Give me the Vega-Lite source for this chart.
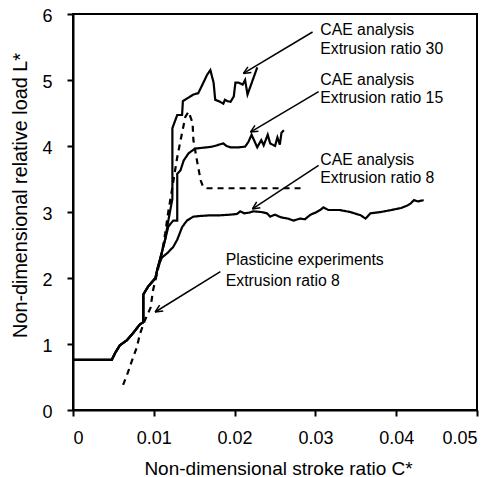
{
  "$schema": "https://vega.github.io/schema/vega-lite/v6.json",
  "width": 404,
  "height": 396,
  "autosize": {"type": "none"},
  "padding": {"left": 73, "top": 14, "right": 8, "bottom": 67},
  "background": "white",
  "config": {
    "font": "Liberation Sans",
    "view": {"stroke": "black", "strokeWidth": 2},
    "axis": {"grid": false, "domainColor": "black", "domainWidth": 2, "tickColor": "black", "tickWidth": 2, "tickSize": 6, "labelColor": "black", "labelFontSize": 18, "titleColor": "black", "titleFontWeight": "normal"}
  },
  "datasets": {
    "curves": [
      {"s": "CAE30", "i": 1, "x": 0, "y": 0.76}, {"s": "CAE30", "i": 2, "x": 0.0048, "y": 0.76}, {"s": "CAE30", "i": 3, "x": 0.0052, "y": 0.86}, {"s": "CAE30", "i": 4, "x": 0.0058, "y": 0.98}, {"s": "CAE30", "i": 5, "x": 0.0067, "y": 1.06}, {"s": "CAE30", "i": 6, "x": 0.0074, "y": 1.16}, {"s": "CAE30", "i": 7, "x": 0.0083, "y": 1.3}, {"s": "CAE30", "i": 8, "x": 0.0087, "y": 1.33}, {"s": "CAE30", "i": 9, "x": 0.0087, "y": 1.75}, {"s": "CAE30", "i": 10, "x": 0.0093, "y": 1.87}, {"s": "CAE30", "i": 11, "x": 0.0102, "y": 2.0}, {"s": "CAE30", "i": 12, "x": 0.0105, "y": 2.16}, {"s": "CAE30", "i": 13, "x": 0.011, "y": 2.39},
      {"s": "CAE30", "i": 14, "x": 0.0114, "y": 2.58}, {"s": "CAE30", "i": 15, "x": 0.0118, "y": 2.87}, {"s": "CAE30", "i": 16, "x": 0.0123, "y": 3.2}, {"s": "CAE30", "i": 17, "x": 0.0123, "y": 4.27}, {"s": "CAE30", "i": 18, "x": 0.0129, "y": 4.47}, {"s": "CAE30", "i": 19, "x": 0.0135, "y": 4.47}, {"s": "CAE30", "i": 20, "x": 0.0136, "y": 4.68}, {"s": "CAE30", "i": 21, "x": 0.0149, "y": 4.78}, {"s": "CAE30", "i": 22, "x": 0.0155, "y": 4.8}, {"s": "CAE30", "i": 23, "x": 0.0161, "y": 4.95}, {"s": "CAE30", "i": 24, "x": 0.0166, "y": 5.08}, {"s": "CAE30", "i": 25, "x": 0.017, "y": 5.15}, {"s": "CAE30", "i": 26, "x": 0.0174, "y": 4.96}, {"s": "CAE30", "i": 27, "x": 0.0176, "y": 4.7}, {"s": "CAE30", "i": 28, "x": 0.0182, "y": 4.67}, {"s": "CAE30", "i": 29, "x": 0.0186, "y": 4.64}, {"s": "CAE30", "i": 30, "x": 0.0188, "y": 4.7}, {"s": "CAE30", "i": 31, "x": 0.0191, "y": 4.68}, {"s": "CAE30", "i": 32, "x": 0.0195, "y": 4.67}, {"s": "CAE30", "i": 33, "x": 0.0199, "y": 4.75}, {"s": "CAE30", "i": 34, "x": 0.0201, "y": 4.96}, {"s": "CAE30", "i": 35, "x": 0.0205, "y": 4.96}, {"s": "CAE30", "i": 36, "x": 0.021, "y": 4.93}, {"s": "CAE30", "i": 37, "x": 0.0213, "y": 5.0}, {"s": "CAE30", "i": 38, "x": 0.0216, "y": 4.78}, {"s": "CAE30", "i": 39, "x": 0.0228, "y": 5.19},
      {"s": "CAE15", "i": 1, "x": 0, "y": 0.76}, {"s": "CAE15", "i": 2, "x": 0.0048, "y": 0.76}, {"s": "CAE15", "i": 3, "x": 0.0052, "y": 0.86}, {"s": "CAE15", "i": 4, "x": 0.0058, "y": 0.98}, {"s": "CAE15", "i": 5, "x": 0.0067, "y": 1.06}, {"s": "CAE15", "i": 6, "x": 0.0074, "y": 1.16}, {"s": "CAE15", "i": 7, "x": 0.0083, "y": 1.3}, {"s": "CAE15", "i": 8, "x": 0.0087, "y": 1.33}, {"s": "CAE15", "i": 9, "x": 0.0087, "y": 1.75}, {"s": "CAE15", "i": 10, "x": 0.0093, "y": 1.87}, {"s": "CAE15", "i": 11, "x": 0.0102, "y": 2.0}, {"s": "CAE15", "i": 12, "x": 0.0105, "y": 2.16}, {"s": "CAE15", "i": 13, "x": 0.011, "y": 2.39},
      {"s": "CAE15", "i": 14, "x": 0.0114, "y": 2.58}, {"s": "CAE15", "i": 15, "x": 0.0118, "y": 2.78}, {"s": "CAE15", "i": 16, "x": 0.0124, "y": 2.87}, {"s": "CAE15", "i": 17, "x": 0.0129, "y": 2.87}, {"s": "CAE15", "i": 18, "x": 0.0129, "y": 3.58}, {"s": "CAE15", "i": 19, "x": 0.0133, "y": 3.63}, {"s": "CAE15", "i": 20, "x": 0.0137, "y": 3.78}, {"s": "CAE15", "i": 21, "x": 0.0143, "y": 3.89}, {"s": "CAE15", "i": 22, "x": 0.0151, "y": 3.96}, {"s": "CAE15", "i": 23, "x": 0.0158, "y": 3.97}, {"s": "CAE15", "i": 24, "x": 0.0166, "y": 3.98}, {"s": "CAE15", "i": 25, "x": 0.0172, "y": 3.99}, {"s": "CAE15", "i": 26, "x": 0.0178, "y": 4.01}, {"s": "CAE15", "i": 27, "x": 0.0186, "y": 4.04}, {"s": "CAE15", "i": 28, "x": 0.019, "y": 4.0}, {"s": "CAE15", "i": 29, "x": 0.0195, "y": 3.98}, {"s": "CAE15", "i": 30, "x": 0.0205, "y": 3.98}, {"s": "CAE15", "i": 31, "x": 0.0213, "y": 3.99}, {"s": "CAE15", "i": 32, "x": 0.0217, "y": 4.06}, {"s": "CAE15", "i": 33, "x": 0.0221, "y": 4.17}, {"s": "CAE15", "i": 34, "x": 0.0224, "y": 4.09}, {"s": "CAE15", "i": 35, "x": 0.0228, "y": 3.98}, {"s": "CAE15", "i": 36, "x": 0.0233, "y": 4.09}, {"s": "CAE15", "i": 37, "x": 0.0236, "y": 4.01}, {"s": "CAE15", "i": 38, "x": 0.0241, "y": 4.17}, {"s": "CAE15", "i": 39, "x": 0.0244, "y": 4.04}, {"s": "CAE15", "i": 40, "x": 0.025, "y": 4.0}, {"s": "CAE15", "i": 41, "x": 0.0253, "y": 4.13}, {"s": "CAE15", "i": 42, "x": 0.0256, "y": 4.02}, {"s": "CAE15", "i": 43, "x": 0.0258, "y": 4.2}, {"s": "CAE15", "i": 44, "x": 0.0261, "y": 4.24},
      {"s": "CAE8", "i": 1, "x": 0, "y": 0.76}, {"s": "CAE8", "i": 2, "x": 0.0048, "y": 0.76}, {"s": "CAE8", "i": 3, "x": 0.0052, "y": 0.86}, {"s": "CAE8", "i": 4, "x": 0.0058, "y": 0.98}, {"s": "CAE8", "i": 5, "x": 0.0067, "y": 1.06}, {"s": "CAE8", "i": 6, "x": 0.0074, "y": 1.16}, {"s": "CAE8", "i": 7, "x": 0.0083, "y": 1.3}, {"s": "CAE8", "i": 8, "x": 0.0087, "y": 1.33}, {"s": "CAE8", "i": 9, "x": 0.0087, "y": 1.75}, {"s": "CAE8", "i": 10, "x": 0.0093, "y": 1.87}, {"s": "CAE8", "i": 11, "x": 0.0102, "y": 2.0}, {"s": "CAE8", "i": 12, "x": 0.0105, "y": 2.16}, {"s": "CAE8", "i": 13, "x": 0.011, "y": 2.31},
      {"s": "CAE8", "i": 14, "x": 0.0117, "y": 2.38}, {"s": "CAE8", "i": 15, "x": 0.0124, "y": 2.47}, {"s": "CAE8", "i": 16, "x": 0.0129, "y": 2.58}, {"s": "CAE8", "i": 17, "x": 0.0135, "y": 2.77}, {"s": "CAE8", "i": 18, "x": 0.0141, "y": 2.87}, {"s": "CAE8", "i": 19, "x": 0.0149, "y": 2.93}, {"s": "CAE8", "i": 20, "x": 0.0158, "y": 2.94}, {"s": "CAE8", "i": 21, "x": 0.017, "y": 2.95}, {"s": "CAE8", "i": 22, "x": 0.0182, "y": 2.95}, {"s": "CAE8", "i": 23, "x": 0.0195, "y": 2.96}, {"s": "CAE8", "i": 24, "x": 0.0203, "y": 2.97}, {"s": "CAE8", "i": 25, "x": 0.0207, "y": 3.01}, {"s": "CAE8", "i": 26, "x": 0.0212, "y": 2.98}, {"s": "CAE8", "i": 27, "x": 0.0218, "y": 2.99}, {"s": "CAE8", "i": 28, "x": 0.0223, "y": 3.01}, {"s": "CAE8", "i": 29, "x": 0.0233, "y": 3.0}, {"s": "CAE8", "i": 30, "x": 0.024, "y": 2.98}, {"s": "CAE8", "i": 31, "x": 0.0244, "y": 2.93}, {"s": "CAE8", "i": 32, "x": 0.025, "y": 2.96}, {"s": "CAE8", "i": 33, "x": 0.0257, "y": 2.92}, {"s": "CAE8", "i": 34, "x": 0.0266, "y": 2.9}, {"s": "CAE8", "i": 35, "x": 0.0273, "y": 2.87}, {"s": "CAE8", "i": 36, "x": 0.0281, "y": 2.9}, {"s": "CAE8", "i": 37, "x": 0.0287, "y": 2.89}, {"s": "CAE8", "i": 38, "x": 0.0294, "y": 2.96}, {"s": "CAE8", "i": 39, "x": 0.03, "y": 2.99}, {"s": "CAE8", "i": 40, "x": 0.0306, "y": 3.03}, {"s": "CAE8", "i": 41, "x": 0.031, "y": 3.07}, {"s": "CAE8", "i": 42, "x": 0.0316, "y": 3.03}, {"s": "CAE8", "i": 43, "x": 0.033, "y": 3.03}, {"s": "CAE8", "i": 44, "x": 0.0343, "y": 3.0}, {"s": "CAE8", "i": 45, "x": 0.0356, "y": 2.95}, {"s": "CAE8", "i": 46, "x": 0.0362, "y": 2.9}, {"s": "CAE8", "i": 47, "x": 0.0368, "y": 2.98}, {"s": "CAE8", "i": 48, "x": 0.0381, "y": 3.0}, {"s": "CAE8", "i": 49, "x": 0.0394, "y": 3.03}, {"s": "CAE8", "i": 50, "x": 0.0406, "y": 3.06}, {"s": "CAE8", "i": 51, "x": 0.0414, "y": 3.1}, {"s": "CAE8", "i": 52, "x": 0.0418, "y": 3.13}, {"s": "CAE8", "i": 53, "x": 0.0422, "y": 3.18}, {"s": "CAE8", "i": 54, "x": 0.0427, "y": 3.16}, {"s": "CAE8", "i": 55, "x": 0.0434, "y": 3.18},
      {"s": "Plasticine", "i": 1, "x": 0.0062, "y": 0.38}, {"s": "Plasticine", "i": 2, "x": 0.0068, "y": 0.57}, {"s": "Plasticine", "i": 3, "x": 0.0073, "y": 0.75}, {"s": "Plasticine", "i": 4, "x": 0.0079, "y": 0.95}, {"s": "Plasticine", "i": 5, "x": 0.0083, "y": 1.16}, {"s": "Plasticine", "i": 6, "x": 0.0089, "y": 1.36}, {"s": "Plasticine", "i": 7, "x": 0.0096, "y": 1.55}, {"s": "Plasticine", "i": 8, "x": 0.0099, "y": 1.81}, {"s": "Plasticine", "i": 9, "x": 0.0104, "y": 2.07}, {"s": "Plasticine", "i": 10, "x": 0.011, "y": 2.38}, {"s": "Plasticine", "i": 11, "x": 0.0114, "y": 2.67}, {"s": "Plasticine", "i": 12, "x": 0.0118, "y": 3.01}, {"s": "Plasticine", "i": 13, "x": 0.0122, "y": 3.3}, {"s": "Plasticine", "i": 14, "x": 0.0129, "y": 3.83}, {"s": "Plasticine", "i": 15, "x": 0.0135, "y": 4.2}, {"s": "Plasticine", "i": 16, "x": 0.0139, "y": 4.44}, {"s": "Plasticine", "i": 17, "x": 0.0143, "y": 4.52}, {"s": "Plasticine", "i": 18, "x": 0.0148, "y": 4.35}, {"s": "Plasticine", "i": 19, "x": 0.0149, "y": 4.09}, {"s": "Plasticine", "i": 20, "x": 0.0154, "y": 3.74}, {"s": "Plasticine", "i": 21, "x": 0.0158, "y": 3.48}, {"s": "Plasticine", "i": 22, "x": 0.0161, "y": 3.38}, {"s": "Plasticine", "i": 23, "x": 0.0166, "y": 3.36}, {"s": "Plasticine", "i": 24, "x": 0.0282, "y": 3.36}
    ],
    "arrows": [
      {"x": 0.02965, "y": 5.727, "x2": 0.02109, "y2": 5.1}, {"x": 0.02109, "y": 5.1, "x2": 0.02208, "y2": 5.112}, {"x": 0.02109, "y": 5.1, "x2": 0.02165, "y2": 5.2},
      {"x": 0.0304, "y": 4.824, "x2": 0.02196, "y2": 4.211}, {"x": 0.02196, "y": 4.211, "x2": 0.02295, "y2": 4.223}, {"x": 0.02196, "y": 4.211, "x2": 0.02252, "y2": 4.312},
      {"x": 0.0304, "y": 3.706, "x2": 0.02221, "y2": 3.047}, {"x": 0.02221, "y": 3.047, "x2": 0.02319, "y2": 3.064}, {"x": 0.02221, "y": 3.047, "x2": 0.02273, "y2": 3.152},
      {"x": 0.01824, "y": 2.098, "x2": 0.01017, "y2": 1.485}, {"x": 0.01017, "y": 1.485, "x2": 0.01117, "y2": 1.499}, {"x": 0.01017, "y": 1.485, "x2": 0.01072, "y2": 1.588}
    ],
    "labels": [
      {"x": 0.0306, "y": 5.76, "t": "CAE analysis"}, {"x": 0.0306, "y": 5.47, "t": "Extrusion ratio 30"},
      {"x": 0.0306, "y": 5.0, "t": "CAE analysis"}, {"x": 0.0306, "y": 4.72, "t": "Extrusion ratio 15"},
      {"x": 0.0306, "y": 3.79, "t": "CAE analysis"}, {"x": 0.0306, "y": 3.52, "t": "Extrusion ratio 8"},
      {"x": 0.0189, "y": 2.27, "t": "Plasticine experiments"}, {"x": 0.0189, "y": 1.96, "t": "Extrusion ratio 8"}
    ]
  },
  "layer": [
    {
      "data": {"name": "curves"},
      "mark": {"type": "line", "color": "black", "strokeWidth": 2.2, "clip": true},
      "encoding": {
        "x": {"field": "x", "type": "quantitative", "scale": {"domain": [0, 0.05], "nice": false},
          "axis": {"values": [0, 0.01, 0.02, 0.03, 0.04, 0.05], "format": "~g", "labelPadding": 13, "title": "Non-dimensional stroke ratio C*", "titleFontSize": 19, "titleX": 205, "titleY": 64, "titleBaseline": "alphabetic"}},
        "y": {"field": "y", "type": "quantitative", "scale": {"domain": [0, 6], "nice": false},
          "axis": {"values": [0, 1, 2, 3, 4, 5, 6], "format": "d", "labelPadding": 15, "labelOffset": 2, "title": "Non-dimensional relative load L*", "titleFontSize": 19.8, "titleX": -53, "titleY": 181, "titleAngle": -90, "titleBaseline": "middle", "titleAlign": "center"}},
        "detail": {"field": "s"},
        "order": {"field": "i", "type": "quantitative"},
        "strokeDash": {"field": "s", "type": "nominal", "legend": null,
          "scale": {"domain": ["CAE30", "CAE15", "CAE8", "Plasticine"], "range": [[1, 0], [1, 0], [1, 0], [6, 5]]}}
      }
    },
    {
      "data": {"name": "arrows"},
      "mark": {"type": "rule", "color": "black", "strokeWidth": 1.5},
      "encoding": {
        "x": {"field": "x", "type": "quantitative"},
        "y": {"field": "y", "type": "quantitative"},
        "x2": {"field": "x2"},
        "y2": {"field": "y2"}
      }
    },
    {
      "data": {"name": "labels"},
      "mark": {"type": "text", "align": "left", "baseline": "middle", "fontSize": 15.8, "color": "black"},
      "encoding": {
        "x": {"field": "x", "type": "quantitative"},
        "y": {"field": "y", "type": "quantitative"},
        "text": {"field": "t"}
      }
    }
  ]
}
